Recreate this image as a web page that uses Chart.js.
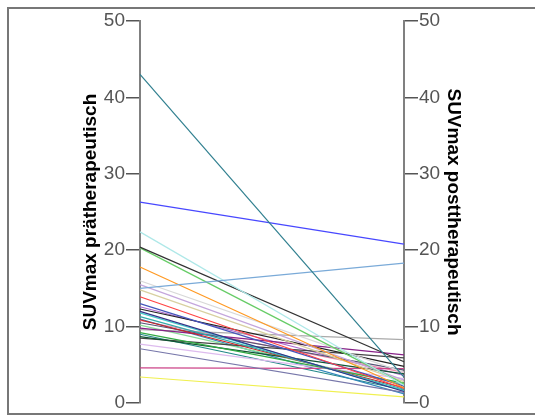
<!DOCTYPE html>
<html>
<head>
<meta charset="utf-8">
<script src="https://cdn.jsdelivr.net/npm/chart.js@4"></script>
<style>
  body { margin: 0; background: #fff; overflow: hidden; }
  #wrap { position: relative; width: 535px; height: 416px; }
  #frame { position: absolute; left: 7px; top: 7px; width: 600px; height: 404px;
           border: 2px solid #777; border-right: none; }
  canvas { position: absolute; left: 0; top: 0; }
</style>
</head>
<body>
<div id="wrap">
  <div id="frame"></div>
  <canvas id="chart" width="535" height="416"></canvas>
</div>
<script>
// one line per patient: SUVmax before and after therapy
const timepoints = ['prä', 'post'];
const suvPre  = [43.0, 26.3, 15.0, 22.4, 20.4, 20.3, 17.8, 16.0, 15.5, 14.8, 13.9, 13.0, 12.3, 12.0, 11.8, 11.3,
                 10.9, 10.5, 9.8, 9.2, 8.7, 9.6, 7.7, 7.1, 4.6, 3.4, 8.5, 10.2, 11.0, 10.8, 9.0, 12.6];
const suvPost = [3.4, 20.8, 18.3, 2.3, 5.4, 2.5, 2.0, 4.0, 3.0, 2.8, 1.9, 2.2, 4.8, 1.5, 1.6, 1.8,
                 2.0, 4.3, 6.3, 2.6, 3.8, 8.3, 3.2, 1.4, 4.5, 0.8, 5.9, 2.4, 1.2, 4.0, 1.7, 3.6];
const lineColors = ['#2f7f8f', '#4848ff', '#7aaad8', '#aee8e8', '#333333', '#66cc66', '#ff9922', '#d8d8d8',
                    '#c4a6dc', '#d8d0a0', '#ff4444', '#4455bb', '#222222', '#333388', '#44cccc', '#33aaaa',
                    '#cc2222', '#555577', '#882288', '#33aa44', '#115533', '#aaaaaa', '#ddbbee', '#7777aa',
                    '#cc4488', '#f0f050', '#444444', '#88dd99', '#3388bb', '#ee88aa', '#228888', '#aa66cc'];
const yTicks = [0, 10, 20, 30, 40, 50];

const datasets = suvPre.map((pre, i) => ({
    data: [pre, suvPost[i]],
    borderColor: lineColors[i],
    borderWidth: 1.2,
    pointRadius: 0,
    tension: 0,
    yAxisID: 'y'
}));

function axis(position, title, titlePad, width) {
    return {
        position: position,
        min: 0,
        max: 50,
        afterBuildTicks: s => { s.ticks = yTicks.map(v => ({ value: v })); },
        afterFit: s => { s.width = width; },
        border: { display: true, color: '#808080', width: 2 },
        grid: { drawOnChartArea: false, drawTicks: true, tickLength: 14, color: '#555', lineWidth: 1.5 },
        ticks: { color: '#555', padding: 1, font: { family: 'Liberation Sans', size: 19 } },
        title: {
            display: true,
            text: title,
            color: '#000',
            padding: { top: titlePad, bottom: 0 },
            font: { family: 'Liberation Sans', size: 19, weight: 'bold' }
        }
    };
}

const ctx = document.getElementById('chart').getContext('2d');
new Chart(ctx, {
    type: 'line',
    data: { labels: timepoints, datasets: datasets },
    options: {
        responsive: false,
        animation: false,
        layout: { padding: { top: 21, bottom: 13, left: 0, right: 0 } },
        plugins: { legend: { display: false }, tooltip: { enabled: false } },
        scales: {
            x: { display: false, offset: false },
            y: axis('left', 'SUVmax prätherapeutisch', 79, 140),
            y2: axis('right', 'SUVmax posttherapeutisch', 70, 131)
        }
    }
});
</script>
</body>
</html>
